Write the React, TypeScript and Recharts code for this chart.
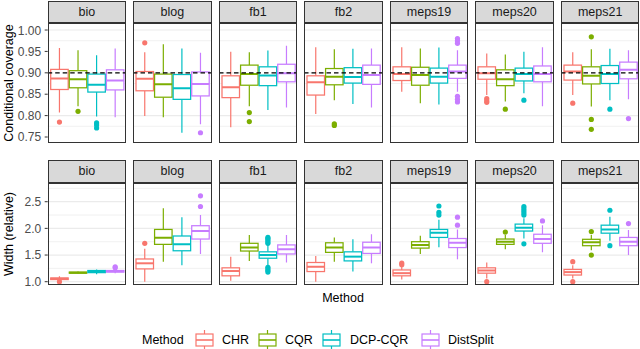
import React from 'react';
import { ComposedChart, Bar, XAxis, YAxis, CartesianGrid, ReferenceLine } from 'recharts';

// ---------- data ----------
const datasets = ['bio', 'blog', 'fb1', 'fb2', 'meps19', 'meps20', 'meps21'];
const methods = ['CHR', 'CQR', 'DCP-CQR', 'DistSplit'];
const methodColors = ['#F8766D', '#7CAE00', '#00BFC4', '#C77CFF'];

// Conditional coverage (top row)
const covLow = [
  [0.807, 0.822, 0.798, 0.796],
  [0.799, 0.796, 0.760, 0.780],
  [0.773, 0.822, 0.813, 0.819],
  [0.804, 0.836, 0.827, 0.819],
  [0.856, 0.829, 0.826, 0.856],
  [0.848, 0.833, 0.852, 0.822],
  [0.848, 0.821, 0.836, 0.838],
];
const covQ1 = [
  [0.861, 0.865, 0.855, 0.860],
  [0.858, 0.843, 0.838, 0.846],
  [0.842, 0.871, 0.870, 0.879],
  [0.848, 0.872, 0.876, 0.873],
  [0.882, 0.871, 0.876, 0.887],
  [0.885, 0.870, 0.881, 0.879],
  [0.883, 0.874, 0.875, 0.886],
];
const covMed = [
  [0.887, 0.885, 0.872, 0.882],
  [0.886, 0.873, 0.864, 0.874],
  [0.866, 0.897, 0.894, 0.899],
  [0.878, 0.891, 0.890, 0.895],
  [0.897, 0.895, 0.891, 0.903],
  [0.899, 0.885, 0.897, 0.897],
  [0.903, 0.893, 0.897, 0.907],
];
const covQ3 = [
  [0.908, 0.905, 0.897, 0.907],
  [0.903, 0.897, 0.896, 0.902],
  [0.893, 0.918, 0.914, 0.920],
  [0.893, 0.910, 0.912, 0.918],
  [0.914, 0.913, 0.911, 0.918],
  [0.914, 0.907, 0.911, 0.916],
  [0.918, 0.914, 0.917, 0.925],
];
const covHigh = [
  [0.958, 0.953, 0.941, 0.957],
  [0.948, 0.967, 0.957, 0.947],
  [0.949, 0.948, 0.952, 0.963],
  [0.960, 0.955, 0.956, 0.957],
  [0.960, 0.957, 0.959, 0.953],
  [0.945, 0.943, 0.949, 0.960],
  [0.948, 0.955, 0.956, 0.953],
];
const covOut = [
  [[0.785], [0.810], [0.783, 0.778, 0.771], []],
  [[0.970], [], [], [0.760]],
  [[], [0.807, 0.786], [], []],
  [[], [0.781, 0.777], [], []],
  [[], [], [], [0.980, 0.975, 0.969, 0.845, 0.838, 0.832]],
  [[0.840, 0.835, 0.831], [0.815], [0.836], []],
  [[0.829], [0.984, 0.791, 0.768], [0.815], [0.793]],
];

// Width (relative) (bottom row)
const widLow = [
  [1.03, 1.15, 1.14, 1.16],
  [1.00, 1.375, 1.31, 1.52],
  [1.02, 1.39, 1.31, 1.36],
  [1.00, 1.375, 1.19, 1.345],
  [1.04, 1.52, 1.645, 1.42],
  [1.06, 1.61, 1.81, 1.55],
  [1.06, 1.59, 1.77, 1.50],
];
const widQ1 = [
  [1.04, 1.16, 1.17, 1.18],
  [1.24, 1.70, 1.58, 1.80],
  [1.11, 1.575, 1.44, 1.52],
  [1.19, 1.55, 1.39, 1.53],
  [1.11, 1.63, 1.83, 1.64],
  [1.16, 1.70, 1.95, 1.72],
  [1.125, 1.675, 1.91, 1.675],
];
const widMed = [
  [1.055, 1.17, 1.19, 1.195],
  [1.345, 1.825, 1.70, 1.95],
  [1.20, 1.64, 1.50, 1.61],
  [1.28, 1.64, 1.47, 1.64],
  [1.16, 1.69, 1.92, 1.73],
  [1.21, 1.75, 2.01, 1.80],
  [1.18, 1.74, 1.98, 1.75],
];
const widQ3 = [
  [1.07, 1.18, 1.21, 1.21],
  [1.426, 1.98, 1.857, 2.05],
  [1.26, 1.72, 1.56, 1.69],
  [1.36, 1.73, 1.56, 1.74],
  [1.22, 1.75, 1.98, 1.81],
  [1.26, 1.80, 2.08, 1.89],
  [1.23, 1.795, 2.06, 1.83],
];
const widHigh = [
  [1.10, 1.19, 1.23, 1.235],
  [1.62, 2.376, 2.21, 2.25],
  [1.47, 1.875, 1.69, 1.875],
  [1.48, 1.83, 1.795, 1.89],
  [1.28, 1.86, 2.16, 1.98],
  [1.36, 1.875, 2.19, 2.06],
  [1.31, 1.875, 2.22, 1.97],
];
const widOut = [
  [[1.0], [], [], [1.26, 1.28]],
  [[1.72], [], [], [2.61, 2.41]],
  [[], [], [1.72, 1.75, 1.78, 1.81, 1.83, 1.27, 1.24, 1.21, 1.18], []],
  [[], [], [], []],
  [[1.32, 1.35], [], [2.42, 2.30, 2.25], [2.21, 2.06]],
  [[1.0], [1.93], [2.25, 2.29, 2.33, 2.37, 2.41, 1.71], [2.14]],
  [[1.375, 1.0], [1.94, 1.50], [2.34, 1.675], [2.09]],
];

const covTicks = [0.75, 0.8, 0.85, 0.9, 0.95, 1.0];
const covMinor = [0.775, 0.825, 0.875, 0.925, 0.975];
const covDomain = [0.7353, 1.0164];
const widTicks = [1.0, 1.5, 2.0, 2.5];
const widMinor = [1.25, 1.75, 2.25, 2.75];
const widDomain = [0.938, 2.851];
const xTicks = [-0.4, -0.2, 0, 0.2, 0.4];
const xMinor = [-0.3, -0.1, 0.1, 0.3];
const xDomain = [-0.41, 0.41];
const coverageTarget = 0.9;

// ---------- layout ----------
const FONT = "'Liberation Sans', Arial, Helvetica, sans-serif";
const PANEL_X0 = 47.7;
const PANEL_STEP = 85.55;
const PANEL_W = 78.3;
const YAXIS_W = 47.7;
const AXIS_H = 6;
const GRID = '#EBEBEB';
const BORDER = '#333333';

function buildRows(i: number, lo: number[][], q1: number[][], md: number[][], q3: number[][], hi: number[][], out: number[][][]) {
  return methods.map((m, j) => ({
    method: m,
    color: methodColors[j],
    low: lo[i][j],
    q1: q1[i][j],
    med: md[i][j],
    q3: q3[i][j],
    high: hi[i][j],
    out: out[i][j],
  }));
}

function BoxShape(props: any) {
  const { x, y, width, height, payload } = props;
  if (!payload || x == null || y == null) return null;
  const top = Math.min(y, y + height);
  const h = Math.abs(height);
  const span = payload.q3 - payload.q1;
  const k = span > 0 ? h / span : 0;
  const py = (v: number) => top + (payload.q3 - v) * k;
  const cx = x + width / 2;
  const c = payload.color;
  return (
    <g>
      <line x1={cx} x2={cx} y1={py(payload.high)} y2={top} stroke={c} strokeWidth={1.2} />
      <line x1={cx} x2={cx} y1={top + h} y2={py(payload.low)} stroke={c} strokeWidth={1.2} />
      <rect x={x} y={top} width={width} height={h} fill="#ffffff" stroke={c} strokeWidth={1.25} />
      <line x1={x} x2={x + width} y1={py(payload.med)} y2={py(payload.med)} stroke={c} strokeWidth={2} />
      {payload.out.map((o: number, i: number) => (
        <circle key={i} cx={cx} cy={py(o)} r={2.6} fill={c} />
      ))}
    </g>
  );
}

type PanelProps = {
  col: number;
  top: number;
  plotH: number;
  rows: any[];
  domain: number[];
  ticks: number[];
  minor: number[];
  decimals: number;
  refY?: number;
};

function Panel({ col, top, plotH, rows, domain, ticks, minor, decimals, refY }: PanelProps) {
  const showY = col === 0;
  const left = PANEL_X0 + col * PANEL_STEP - (showY ? YAXIS_W : 0);
  const w = PANEL_W + (showY ? YAXIS_W : 0);
  return (
    <div style={{ position: 'absolute', left, top, width: w, height: plotH + AXIS_H }}>
      <ComposedChart
        width={w}
        height={plotH + AXIS_H}
        data={rows}
        margin={{ top: 0, right: 0, bottom: 0, left: 0 }}
        style={{ overflow: 'visible' }}
      >
        <XAxis xAxisId="c" dataKey="method" type="category" hide padding={{ left: 2, right: 2 }} />
        <XAxis
          xAxisId="n"
          type="number"
          domain={xDomain}
          ticks={xTicks}
          allowDataOverflow
          height={AXIS_H}
          axisLine={false}
          tickLine={{ stroke: BORDER, strokeWidth: 1 }}
          tickSize={3}
          tick={false}
        />
        <YAxis
          type="number"
          domain={domain}
          ticks={ticks}
          allowDataOverflow
          hide={!showY}
          width={YAXIS_W}
          axisLine={false}
          tickLine={{ stroke: BORDER, strokeWidth: 1 }}
          tickSize={3}
          tickMargin={3.5}
          tick={{ fill: '#4D4D4D', fontSize: 12, fontFamily: FONT }}
          tickFormatter={(v: number) => v.toFixed(decimals)}
        />
        <CartesianGrid
          xAxisId="n"
          stroke={GRID}
          strokeWidth={0.7}
          horizontalValues={minor}
          verticalValues={xMinor}
        />
        <CartesianGrid
          xAxisId="n"
          stroke={GRID}
          strokeWidth={1.2}
          horizontalValues={ticks}
          verticalValues={xTicks}
        />
        <Bar
          xAxisId="c"
          dataKey={(d: any) => [d.q1, d.q3]}
          barSize={17.5}
          shape={BoxShape}
          isAnimationActive={false}
        />
        {refY != null && (
          <ReferenceLine xAxisId="n" y={refY} stroke="#000000" strokeWidth={1.2} strokeDasharray="4.5 3" />
        )}
      </ComposedChart>
      <div
        style={{
          position: 'absolute',
          left: showY ? YAXIS_W : 0,
          top: 0,
          width: PANEL_W,
          height: plotH,
          boxSizing: 'border-box',
          border: `1px solid ${BORDER}`,
          pointerEvents: 'none',
        }}
      />
    </div>
  );
}

function Strip({ col, top, height, label }: { col: number; top: number; height: number; label: string }) {
  return (
    <div
      style={{
        position: 'absolute',
        left: PANEL_X0 + col * PANEL_STEP,
        top,
        width: PANEL_W,
        height,
        boxSizing: 'border-box',
        border: `1px solid ${BORDER}`,
        background: '#D9D9D9',
        color: '#1A1A1A',
        fontSize: 12.5,
        fontFamily: FONT,
        display: 'flex',
        alignItems: 'center',
        justifyContent: 'center',
      }}
    >
      {label}
    </div>
  );
}

function LegendKey({ color, left }: { color: string; left: number }) {
  return (
    <svg style={{ position: 'absolute', left, top: 330 }} width={19} height={20}>
      <line x1={9.5} x2={9.5} y1={0} y2={4} stroke={color} strokeWidth={1.2} />
      <line x1={9.5} x2={9.5} y1={16} y2={20} stroke={color} strokeWidth={1.2} />
      <rect x={1} y={4} width={17} height={12} fill="#fff" stroke={color} strokeWidth={1.2} />
      <line x1={1} x2={18} y1={10} y2={10} stroke={color} strokeWidth={1.6} />
    </svg>
  );
}

const legendKeyX = [195, 258, 322, 421];
const legendTextX = [222, 285, 350, 448];

export default function App() {
  const topRow = { stripTop: 0.5, plotTop: 23, plotH: 120.3 };
  const botRow = { stripTop: 159.5, plotTop: 183, plotH: 102 };
  const textStyle: React.CSSProperties = {
    position: 'absolute',
    fontFamily: FONT,
    fontSize: 12.5,
    color: '#000',
    whiteSpace: 'nowrap',
    lineHeight: 1,
  };
  return (
    <div style={{ position: 'absolute', left: 0, top: 0, width: 640, height: 349, background: '#fff', overflow: 'hidden', fontFamily: FONT }}>
      {datasets.map((d, i) => (
        <React.Fragment key={d}>
          <Strip col={i} top={topRow.stripTop} height={topRow.plotTop - topRow.stripTop} label={d} />
          <Panel
            col={i}
            top={topRow.plotTop}
            plotH={topRow.plotH}
            rows={buildRows(i, covLow, covQ1, covMed, covQ3, covHigh, covOut)}
            domain={covDomain}
            ticks={covTicks}
            minor={covMinor}
            decimals={2}
            refY={coverageTarget}
          />
          <Strip col={i} top={botRow.stripTop} height={botRow.plotTop - botRow.stripTop} label={d} />
          <Panel
            col={i}
            top={botRow.plotTop}
            plotH={botRow.plotH}
            rows={buildRows(i, widLow, widQ1, widMed, widQ3, widHigh, widOut)}
            domain={widDomain}
            ticks={widTicks}
            minor={widMinor}
            decimals={1}
          />
        </React.Fragment>
      ))}
      <div style={{ ...textStyle, left: 9, top: 83, transform: 'translate(-50%, -50%) rotate(-90deg)' }}>
        Conditional coverage
      </div>
      <div style={{ ...textStyle, left: 9, top: 234, transform: 'translate(-50%, -50%) rotate(-90deg)' }}>
        Width (relative)
      </div>
      <div style={{ ...textStyle, left: 343, top: 298, transform: 'translate(-50%, -50%)' }}>Method</div>
      <div style={{ ...textStyle, left: 142, top: 340, transform: 'translateY(-50%)' }}>Method</div>
      {methods.map((m, j) => (
        <React.Fragment key={m}>
          <LegendKey color={methodColors[j]} left={legendKeyX[j]} />
          <div style={{ ...textStyle, left: legendTextX[j], top: 340, transform: 'translateY(-50%)' }}>{m}</div>
        </React.Fragment>
      ))}
    </div>
  );
}
